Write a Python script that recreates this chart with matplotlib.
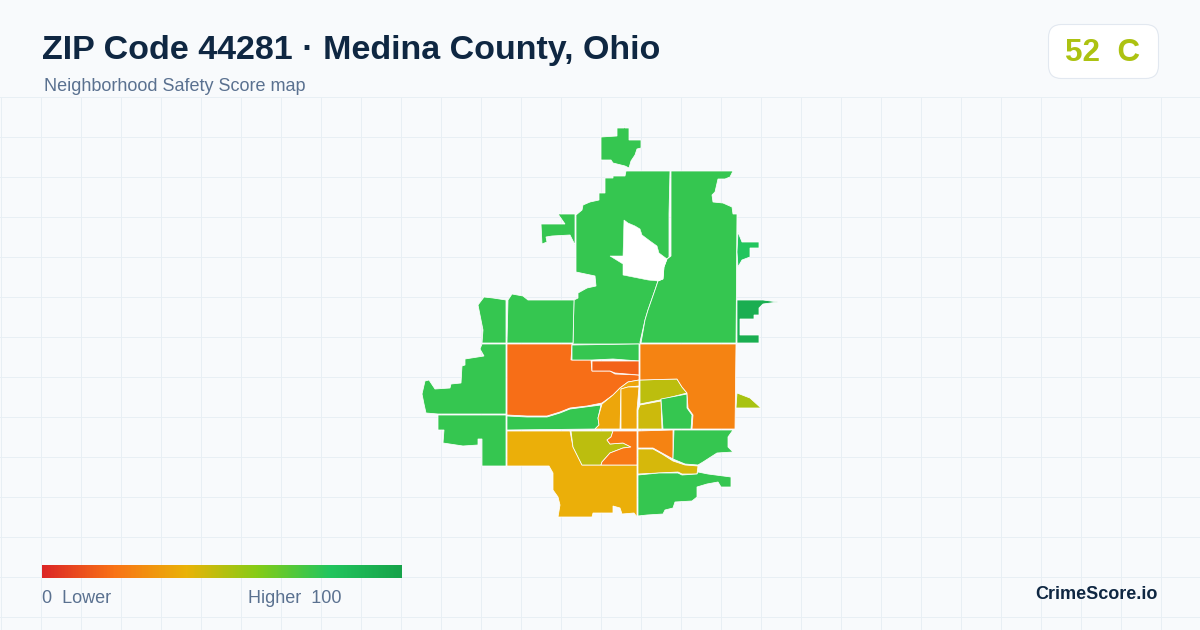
import numpy as np
import matplotlib
matplotlib.use("Agg")
import matplotlib.pyplot as plt
from matplotlib.colors import LinearSegmentedColormap
from matplotlib.patches import Polygon, FancyBboxPatch

plt.rcParams['font.family'] = ['Liberation Sans', 'DejaVu Sans']

title = "ZIP Code 44281 · Medina County, Ohio"
subtitle = "Neighborhood Safety Score map"
score = 52
grade = "C"
brand = "CrimeScore.io"

# colour scale of the legend
scale_stops = [0, 20, 40, 60, 80, 100]
scale_colors = ["#dc2626", "#f97316", "#eab308", "#84cc16", "#22c55e", "#16a34a"]
scale_min = 0
scale_max = 100

# tract scores
tract_scores = {
    "island": 76, "north_west": 76, "west_small": 76, "north_east": 76,
    "east_small": 80, "east_dark": 93, "w1": 76, "w2": 76, "w3": 76, "w4": 76,
    "o1": 19, "g1": 76, "o2": 16, "g2": 76, "t1": 36, "t2": 36, "l1": 49,
    "l2": 46, "g3": 76, "e": 25, "east_lime": 53, "s": 39, "l3": 49, "o3": 22,
    "o4": 25, "l4": 44, "g5": 76, "g6": 76,
}

tract_shapes = {
    "island": [(601,137),(617,136),(617,128),(624,128),(624,125),(625,128),(629,128),(629,140),(641,140),(641,148),(637,149),(635,155),(631,161),(629,168),(625,166),(613,163),(611,160),(601,160)],
    "north_west": [(626,171),(670,171),(669,214),(669,257),(667,259),(664,267),(663,279),(658,281),(655,290),(648,310),(645,320),(640,342),(640,344),(573,344),(574,300),(578,298),(578,293),(587,288),(596,286),(595,276),(576,272),(576,215),(582,210),(583,205),(590,202),(599,200),(599,193),(605,193),(605,178),(613,178),(613,176),(625,176)],
    "west_small": [(558,214),(575,214),(575,245),(570,235),(552,236),(546,237),(547,242),(542,244),(541,224),(565,224)],
    "north_east": [(671,171),(733,171),(730,177),(725,179),(718,179),(715,192),(712,195),(713,202),(723,203),(732,207),(733,214),(737,214),(736,343),(641,343),(645,320),(648,310),(655,290),(658,281),(663,279),(664,267),(667,259),(671,256),(671,214)],
    "east_small": [(738,232),(742,242),(759,242),(759,248),(750,248),(750,257),(742,260),(738,267),(737,252)],
    "east_dark": [(737,300),(763,300),(778,302),(763,304),(759,308),(759,315),(754,315),(754,319),(740,319),(740,335),(759,335),(759,343),(737,343)],
    "w1": [(478,305),(484,297),(493,298),(506,300),(506,343),(482,343),(483,330),(481,320)],
    "w2": [(508,300),(512,294),(523,296),(528,300),(574,300),(573,343),(550,343),(507,343)],
    "w3": [(482,344),(506,344),(506,414),(473,414),(438,414),(426,413),(424,404),(422,394),(425,381),(429,380),(435,389),(450,388),(451,384),(461,383),(462,366),(465,365),(465,359),(484,356),(480,349)],
    "w4": [(438,415),(506,415),(506,466),(482,466),(482,439),(478,439),(478,445),(463,446),(443,443),(444,430),(438,430)],
    "o1": [(507,344),(550,344),(572,344),(571,360),(591,360),(592,371),(610,371),(615,374),(639,375),(639,380),(628,382),(620,388),(613,395),(602,403),(587,406),(570,408),(560,412),(547,416),(527,416),(507,415)],
    "g1": [(572,345),(639,344),(639,361),(613,359),(592,360),(572,360)],
    "o2": [(592,361),(639,361),(639,375),(615,373),(610,371),(592,371)],
    "g2": [(507,416),(527,417),(547,417),(560,413),(570,409),(601,405),(598,418),(599,425),(595,429),(507,430)],
    "t1": [(602,404),(613,395),(620,388),(628,382),(639,380),(639,386),(628,387),(621,389),(620,429),(595,429),(599,425),(598,418)],
    "t2": [(621,389),(628,387),(639,387),(637,410),(637,429),(621,429)],
    "l1": [(640,380),(677,379),(682,387),(687,393),(660,400),(640,404)],
    "l2": [(640,405),(661,401),(662,429),(638,429),(638,410)],
    "g3": [(661,399),(687,394),(687,408),(692,415),(691,429),(663,429)],
    "e": [(640,344),(736,344),(735,429),(692,429),(693,415),(688,408),(687,393),(682,387),(677,379),(640,380)],
    "east_lime": [(737,393),(750,398),(761,408),(736,408)],
    "s": [(507,431),(570,431),(573,447),(582,465),(637,465),(637,517),(634,513),(622,514),(620,508),(613,506),(613,513),(593,513),(592,517),(558,517),(560,505),(558,497),(553,490),(553,473),(549,466),(507,466)],
    "l3": [(571,431),(613,431),(611,437),(607,440),(610,444),(623,443),(631,447),(623,448),(610,453),(602,462),(601,465),(582,465),(573,447)],
    "o3": [(613,431),(637,431),(637,465),(601,465),(602,462),(610,453),(623,448),(631,447),(623,443),(610,444),(607,440),(611,437)],
    "o4": [(638,431),(673,430),(673,459),(662,453),(653,448),(638,448)],
    "l4": [(638,449),(653,449),(662,454),(673,461),(685,465),(698,466),(697,474),(682,474),(678,472),(659,473),(638,474)],
    "g5": [(674,430),(733,430),(728,437),(728,447),(733,452),(717,453),(703,462),(698,465),(685,464),(673,459)],
    "g6": [(638,475),(659,473),(678,473),(682,475),(697,474),(698,472),(708,474),(731,477),(731,487),(721,487),(718,482),(707,484),(697,487),(697,497),(692,501),(675,502),(673,508),(665,510),(663,514),(647,515),(638,516)],
}

# hole in the middle of the north tracts, drawn plain white
hole_shape = [(624,220),(628,223),(635,226),(640,229),(642,235),(650,241),(657,246),(659,253),(667,259),(664,267),(663,279),(658,281),(648,280),(633,277),(623,275),(623,264),(610,256),(623,256)]

cmap = LinearSegmentedColormap.from_list(
    "safety", [(s / 100, c) for s, c in zip(scale_stops, scale_colors)])

fig = plt.figure(figsize=(12, 6.3), dpi=100, facecolor="#f8fafc")
ax = fig.add_axes([0, 0, 1, 1])
ax.set_xlim(0, 1200)
ax.set_ylim(630, 0)
ax.axis("off")

# background grid
for x in np.arange(0.5, 1200, 40):
    ax.plot([x, x], [97, 630], color="#e8eff4", lw=0.72, zorder=1)
for y in np.arange(96.5, 630, 40):
    ax.plot([0, 1200], [y, y], color="#e8eff4", lw=0.72, zorder=1)

# map
for name, pts in tract_shapes.items():
    ax.add_patch(Polygon(pts, closed=True, facecolor=cmap(tract_scores[name] / 100),
                         edgecolor="white", lw=0.55, zorder=2))
ax.add_patch(Polygon(hole_shape, closed=True, facecolor="white", edgecolor="white", lw=0.4, zorder=3))

# header
ax.text(42, 59, title, fontsize=24.5, fontweight="bold", color="#0f2742", zorder=5)
ax.text(44, 91, subtitle, fontsize=12.95, color="#5a7190", zorder=5)

# score badge
ax.add_patch(FancyBboxPatch((1048.5, 24.5), 110, 54, boxstyle="round,pad=0,rounding_size=13",
                            facecolor="white", edgecolor="#e2e8f0", lw=0.8, zorder=4))
ax.text(1103, 61, "%d  %s" % (score, grade), fontsize=22.6, fontweight="bold",
        color=cmap(score / 100), ha="center", zorder=5)

# legend bar
gradient = np.linspace(0, 1, 360).reshape(1, -1)
ax.imshow(gradient, cmap=cmap, extent=(42, 402, 578, 565), aspect="auto", zorder=4)
ax.set_xlim(0, 1200)
ax.set_ylim(630, 0)
ax.text(42, 603, "%d  Lower" % scale_min, fontsize=13, color="#5a7190", zorder=5)
ax.text(342, 603, "Higher  %d" % scale_max, fontsize=13, color="#5a7190", ha="right", zorder=5)

ax.text(1158, 599, brand, fontsize=13, fontweight="bold", color="#0f2742", ha="right", zorder=5)

fig.savefig("out.png", dpi=100, facecolor=fig.get_facecolor())
